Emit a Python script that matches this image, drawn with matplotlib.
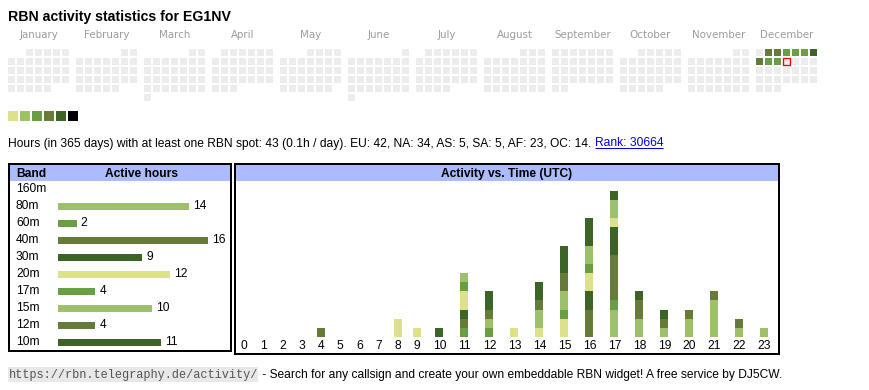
import datetime as dt
import matplotlib
matplotlib.use("Agg")
import matplotlib.pyplot as plt
from matplotlib.patches import Rectangle
from matplotlib import transforms

# ---------------- data ----------------
callsign = "EG1NV"
year = 2025
month_names = ["January", "February", "March", "April", "May", "June", "July",
               "August", "September", "October", "November", "December"]
active_days = ["2025-12-02", "2025-12-03", "2025-12-04", "2025-12-05", "2025-12-06",
               "2025-12-07", "2025-12-08", "2025-12-09", "2025-12-10"]
active_levels = [3, 3, 2, 2, 2, 4, 3, 2, 2]
today = "2025-12-11"
level_colors = ["#dbe28b", "#9ec06a", "#699e45", "#667a3a", "#3c6427", "#000000"]

total_hours = 43
per_day = "0.1h"
continents = ["EU", "NA", "AS", "SA", "AF", "OC"]
continent_hours = [42, 34, 5, 5, 23, 14]
rank = 30664

bands = ["160m", "80m", "60m", "40m", "30m", "20m", "17m", "15m", "12m", "10m"]
band_hours = [0, 14, 2, 16, 9, 12, 4, 10, 4, 11]
band_colors = ["#000000", "#9ec06a", "#699e45", "#667a3a", "#3c6427",
               "#dbe28b", "#699e45", "#9ec06a", "#667a3a", "#3c6427"]
hours = list(range(24))
hourly_160m = [0] * 24
hourly_80m = [0,0,0,0,0,0,0,0,0,0,0,0,0,0,0,0,0,3,2,1,2,4,1,1]
hourly_60m = [0,0,0,0,0,0,0,0,0,0,0,1,0,0,0,0,0,1,0,0,0,0,0,0]
hourly_40m = [0,0,0,0,1,0,0,0,0,0,0,1,0,0,0,0,3,5,2,1,1,1,1,0]
hourly_30m = [0,0,0,0,0,0,0,0,0,0,1,1,0,0,0,0,2,3,1,1,0,0,0,0]
hourly_20m = [0,0,0,0,0,0,0,0,2,1,0,2,0,1,1,2,2,1,0,0,0,0,0,0]
hourly_17m = [0,0,0,0,0,0,0,0,0,0,0,1,1,0,0,1,1,0,0,0,0,0,0,0]
hourly_15m = [0,0,0,0,0,0,0,0,0,0,0,1,1,0,2,2,2,2,0,0,0,0,0,0]
hourly_12m = [0,0,0,0,0,0,0,0,0,0,0,0,1,0,1,2,0,0,0,0,0,0,0,0]
hourly_10m = [0,0,0,0,0,0,0,0,0,0,0,0,2,0,2,3,3,1,0,0,0,0,0,0]
hourly = [hourly_160m, hourly_80m, hourly_60m, hourly_40m, hourly_30m,
          hourly_20m, hourly_17m, hourly_15m, hourly_12m, hourly_10m]

url = "https://rbn.telegraphy.de/activity/"
footer = " - Search for any callsign and create your own embeddable RBN widget! A free service by DJ5CW."

# ---------------- layout ----------------
W, H = 870, 390
SANS = ["Liberation Sans", "DejaVu Sans"]
FS = 8.65
fig = plt.figure(figsize=(W / 100, H / 100), dpi=100)
cv = fig.add_axes([0, 0, 1, 1])
cv.set_xlim(0, W)
cv.set_ylim(H, 0)
cv.axis("off")


def px_axes(x0, y0, x1, y1):
    return fig.add_axes([x0 / W, 1 - y1 / H, (x1 - x0) / W, (y1 - y0) / H])


PT = 72 / 100  # points per pixel

# title
cv.text(8, 21, f"RBN activity statistics for {callsign}", fontsize=10.2,
        fontweight="bold", family=SANS, va="baseline", ha="left")

# calendar
MONTH_W, CELL_P, CELL = 68, 9, 7
CAL_X, CAL_Y = 8, 49
level_of = {d: l for d, l in zip(active_days, active_levels)}
for m, name in enumerate(month_names):
    cv.text(CAL_X + m * MONTH_W + (6 * CELL_P + CELL) / 2, 38.5, name,
            ha="center", va="baseline", fontsize=7.4, color="#9c9c9c",
            family=["DejaVu Sans"])
d = dt.date(year, 1, 1)
while d.year == year:
    first_wd = dt.date(year, d.month, 1).weekday()
    row = (d.day - 1 + first_wd) // 7
    x = CAL_X + (d.month - 1) * MONTH_W + d.weekday() * CELL_P
    y = CAL_Y + row * CELL_P
    key = d.isoformat()
    col = level_colors[level_of[key]] if key in level_of else "#ececec"
    cv.add_patch(Rectangle((x, y), CELL, CELL, facecolor=col, edgecolor="none"))
    if key == today:
        cv.add_patch(Rectangle((x - 0.3, y - 0.3), CELL + 0.6, CELL + 0.6,
                               fill=False, edgecolor="#ee0000", lw=1.3 * PT))
    d += dt.timedelta(days=1)

# legend
for i, c in enumerate(level_colors):
    cv.add_patch(Rectangle((8 + 12 * i, 111), 10, 10, facecolor=c, edgecolor="none"))

# stats line
stats = (f"Hours (in 365 days) with at least one RBN spot: {total_hours} ({per_day} / day). "
         + ", ".join(f"{c}: {v}" for c, v in zip(continents, continent_hours)) + ". ")
t_stats = cv.text(8, 146.5, stats, fontsize=FS, family=SANS, va="baseline", ha="left")

# boxes
LW = 2 * PT
cv.add_patch(Rectangle((10, 165), 220, 16, facecolor="#abbbfd", edgecolor="none"))
cv.add_patch(Rectangle((9, 164), 222.3, 187.3, fill=False, edgecolor="black", lw=LW))
cv.add_patch(Rectangle((236, 165), 542, 16, facecolor="#abbbfd", edgecolor="none"))
cv.add_patch(Rectangle((235, 164), 544, 190, fill=False, edgecolor="black", lw=LW))

cv.text(16, 177.3, "Band", fontsize=FS, fontweight="bold", family=SANS, va="baseline")
cv.text(141.7, 177.3, "Active hours", fontsize=FS, fontweight="bold", family=SANS,
        va="baseline", ha="center")
cv.text(507, 177.3, "Activity vs. Time (UTC)", fontsize=FS, fontweight="bold",
        family=SANS, va="baseline", ha="center")

# band bar chart
bx = px_axes(58, 180.5, 58 + 16 * 9.375, 350.5)
bx.set_xlim(0, 16)
bx.set_ylim(len(bands) - 0.5, -0.5)
bx.axis("off")
ypos = list(range(len(bands)))
bx.barh(ypos, band_hours, height=7 / 17, color=band_colors, edgecolor="none")
lab_tr = transforms.blended_transform_factory(cv.transData, bx.transData)
for i, (b, v) in enumerate(zip(bands, band_hours)):
    bx.text(16, i, b, transform=lab_tr, va="center", ha="left", fontsize=FS, family=SANS)
    if v > 0:
        bx.annotate(str(v), (v, i), xytext=(4 * PT, 0), textcoords="offset points",
                    va="center", ha="left", fontsize=FS, family=SANS,
                    annotation_clip=False)

# hourly stacked chart
col_w = [19.25 if h < 10 else 25.0 for h in hours]
centers = []
acc = 0.0
for w in col_w:
    centers.append(acc + w / 2)
    acc += w
UNIT = 9.15
hx = px_axes(234.4, 181, 234.4 + acc, 337)
hx.set_xlim(0, acc)
hx.set_ylim(0, (337 - 181) / UNIT)
hx.axis("off")
bottom = [0] * 24
for vals, c in zip(hourly, band_colors):
    hx.bar(centers, vals, width=8, bottom=bottom, color=c, edgecolor="none")
    bottom = [a + b for a, b in zip(bottom, vals)]
for h, cx in zip(hours, centers):
    hx.text(cx, -9.0 / UNIT, str(h), ha="center", va="center", fontsize=FS, family=SANS,
            clip_on=False)

# footer
t_url = cv.text(8.5, 378, url, fontsize=8.6, family=["Liberation Mono"], color="#555555",
                va="baseline", ha="left", zorder=3)

fig.canvas.draw()
r = fig.canvas.get_renderer()
inv = cv.transData.inverted()


def ext(t):
    bb = t.get_window_extent(r)
    (x0, y0), (x1, y1) = inv.transform([[bb.x0, bb.y0], [bb.x1, bb.y1]])
    return x0, x1, min(y0, y1), max(y0, y1)


sx0, sx1, _, _ = ext(t_stats)
t_rank = cv.text(sx1, 146.5, f"Rank: {rank}", fontsize=FS, family=SANS, color="#0000ee",
                 va="baseline", ha="left")
ux0, ux1, uy0, uy1 = ext(t_url)
cv.add_patch(Rectangle((ux0 - 0.5, 367), ux1 - ux0 + 1, 15, facecolor="#e8e8e8",
                       edgecolor="none", zorder=2))
cv.text(ux1 + 1, 378, footer, fontsize=FS, family=SANS, va="baseline", ha="left")
fig.canvas.draw()
rx0, rx1, _, _ = ext(t_rank)
cv.plot([rx0, rx1], [148, 148], color="#0000ee", lw=1 * PT, solid_capstyle="butt")

fig.savefig("out.png", dpi=100)
